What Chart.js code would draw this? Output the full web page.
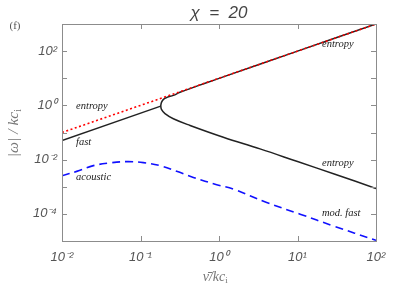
<!DOCTYPE html>
<html>
<head>
<meta charset="UTF-8">
<title>chi = 20</title>
<script src="https://cdn.jsdelivr.net/npm/chart.js"></script>
<style>
    body { margin: 0; background: #fff; }
    canvas { display: block; }
</style>
</head>
<body>
<canvas id="chart" width="407" height="291"></canvas>
<script>
// values (nu-bar/kc_i , |omega|/kc_i)
var nuEntropy = [0.01, 100];
var omEntropy = [0.1, 1000];

var nuFast = [0.01, 0.181];
var omFast = [0.0506, 0.94];

var nuUpper = [0.181, 0.185, 0.196, 0.218, 0.262, 0.318, 0.428, 0.664, 1.135, 10, 100];
var omUpper = [0.94, 1.29, 1.67, 1.98, 2.34, 3.03, 4.16, 6.53, 11.2, 100, 1000];

var nuLower = [0.181, 0.185, 0.205, 0.262, 0.428, 1.135, 3.33, 10, 30, 100];
var omLower = [0.94, 0.711, 0.493, 0.321, 0.182, 0.067, 0.0249, 0.0085, 0.0029, 0.000865];

var nuAcoustic = [0.01, 0.0154, 0.0251, 0.0408, 0.0667, 0.1087, 0.177, 0.289, 0.471, 0.935, 1.52, 4.05, 10.8, 28.6, 100];
var omAcoustic = [0.00255, 0.00369, 0.0060, 0.00755, 0.00843, 0.00774, 0.0060, 0.00369, 0.00221, 0.00119, 0.00082, 0.000262, 0.0000975, 0.000036, 0.0000106];

var xTicks = [0.01, 0.1, 1, 10, 100];
var yTicks = [1e-5, 1e-4, 1e-3, 1e-2, 1e-1, 1, 10, 100, 1000];
var yLabelled = [1e-4, 1e-2, 1, 100];

// curve labels, placed in data coordinates (left edge, middle)
var labelText = ['entropy', 'entropy', 'fast', 'acoustic', 'entropy', 'mod. fast'];
var labelNu = [20.5, 0.0151, 0.0151, 0.0151, 20.5, 20.5];
var labelOm = [181, 0.92, 0.0427, 0.00234, 0.0071, 0.000109];

function pts(xs, ys) {
    return xs.map(function (v, i) { return { x: v, y: ys[i] }; });
}

var sup = { '-': '⁻', '0': '⁰', '1': '¹', '2': '²', '3': '³', '4': '⁴', '5': '⁵' };
function powLabel(v) {
    var e = String(Math.round(Math.log10(v)));
    return '10' + e.split('').map(function (c) { return sup[c]; }).join('');
}

var frame = {
    id: 'frame',
    afterDatasetsDraw: function (chart) {
        var ctx = chart.ctx, x = chart.scales.x, y = chart.scales.y;
        ctx.save();
        ctx.fillStyle = '#222';
        ctx.font = 'italic 10.5px "Liberation Serif"';
        ctx.textBaseline = 'middle';
        ctx.textAlign = 'left';
        labelText.forEach(function (t, i) {
            ctx.fillText(t, x.getPixelForValue(labelNu[i]), y.getPixelForValue(labelOm[i]));
        });
        ctx.restore();
    },
    afterDraw: function (chart) {
        var ctx = chart.ctx, a = chart.chartArea, x = chart.scales.x, y = chart.scales.y;
        ctx.save();
        ctx.strokeStyle = '#8c8c8c';
        ctx.lineWidth = 1;
        ctx.strokeRect(Math.round(a.left) + 0.5, Math.round(a.top) + 0.5,
            Math.round(a.right - a.left), Math.round(a.bottom - a.top));
        ctx.beginPath();
        xTicks.forEach(function (v) {
            var p = Math.round(x.getPixelForValue(v)) + 0.5;
            ctx.moveTo(p, a.bottom); ctx.lineTo(p, a.bottom - 5);
            ctx.moveTo(p, a.top); ctx.lineTo(p, a.top + 5);
        });
        yTicks.forEach(function (v) {
            var p = Math.round(y.getPixelForValue(v)) + 0.5;
            ctx.moveTo(a.left, p); ctx.lineTo(a.left + 5, p);
            ctx.moveTo(a.right, p); ctx.lineTo(a.right - 5, p);
        });
        ctx.stroke();

        // title and panel tag
        ctx.fillStyle = '#444';
        ctx.textBaseline = 'middle';
        ctx.textAlign = 'center';
        ctx.font = 'italic 17px "Liberation Sans"';
        ctx.fillText('χ  =  20', (a.left + a.right) / 2, 13);
        ctx.font = '11px "Liberation Serif"';
        ctx.fillStyle = '#555';
        ctx.fillText('(f)', 15, 26);

        // axis titles
        ctx.fillStyle = '#777';
        ctx.font = 'italic 14px "Liberation Serif"';
        ctx.textAlign = 'left';
        var xt = 'ν̄/kc';
        var w = ctx.measureText(xt).width + 4;
        var cx = (a.left + a.right) / 2 - 3 - w / 2;
        ctx.fillText(xt, cx, 277);
        ctx.font = '9px "Liberation Serif"';
        ctx.fillText('i', cx + w - 4, 281);

        ctx.translate(14, (a.top + a.bottom) / 2);
        ctx.rotate(-Math.PI / 2);
        ctx.font = 'italic 15.5px "Liberation Serif"';
        var yt = '|ω| / kc';
        var wy = ctx.measureText(yt).width + 4;
        ctx.fillText(yt, -wy / 2, 0);
        ctx.font = '10px "Liberation Serif"';
        ctx.fillText('i', wy / 2 - 4, 4);
        ctx.restore();
    }
};

var tickFont = { family: 'Liberation Sans', style: 'italic', size: 13 };

new Chart(document.getElementById('chart'), {
    type: 'scatter',
    data: {
        datasets: [
            { data: pts(nuEntropy, omEntropy), borderColor: '#ff0000', borderWidth: 1.6, borderDash: [2, 2.5] },
            { data: pts(nuFast, omFast), borderColor: '#222', borderWidth: 1.5 },
            { data: pts(nuUpper, omUpper), borderColor: '#222', borderWidth: 1.5, tension: 0.4 },
            { data: pts(nuLower, omLower), borderColor: '#222', borderWidth: 1.5, tension: 0.4 },
            { data: pts(nuAcoustic, omAcoustic), borderColor: '#1010ff', borderWidth: 1.6, borderDash: [8, 5], tension: 0.4 }
        ]
    },
    options: {
        responsive: false,
        animation: false,
        devicePixelRatio: 1,
        showLine: true,
        elements: { point: { radius: 0 } },
        layout: { padding: { top: 24, right: 31, left: 0, bottom: 0 } },
        plugins: { legend: { display: false }, tooltip: { enabled: false }, title: { display: false } },
        scales: {
            x: {
                type: 'logarithmic', min: 0.01, max: 100,
                grid: { display: false, drawTicks: false },
                border: { display: false },
                afterBuildTicks: function (s) { s.ticks = xTicks.map(function (v) { return { value: v }; }); },
                afterFit: function (s) { s.height = 50; },
                ticks: { color: '#555', font: tickFont, padding: 9, maxRotation: 0, autoSkip: false,
                    callback: function (v) { return powLabel(v); } }
            },
            y: {
                type: 'logarithmic', min: 1e-5, max: 1000,
                grid: { display: false, drawTicks: false },
                border: { display: false },
                afterBuildTicks: function (s) { s.ticks = yTicks.map(function (v) { return { value: v }; }); },
                afterFit: function (s) { s.width = 62; },
                ticks: { color: '#555', font: tickFont, padding: 5, autoSkip: false,
                    callback: function (v) {
                        return yLabelled.some(function (t) { return Math.abs(t - v) / t < 1e-6; }) ? powLabel(v) : '';
                    } }
            }
        }
    },
    plugins: [frame]
});
</script>
</body>
</html>
